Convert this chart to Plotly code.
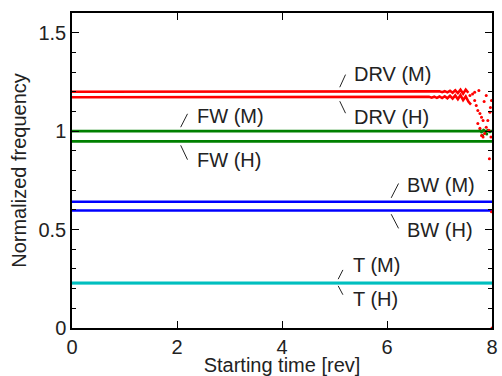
import plotly.graph_objects as go

# ---- data ----
x_flat = [0.0, 8.0]
fw_m = [1.000, 1.000]
fw_h = [0.948, 0.948]
bw_m = [0.641, 0.641]
bw_h = [0.597, 0.597]
t_m = [0.229, 0.229]
t_h = [0.227, 0.227]

drv_m_x = [0.0, 6.95, 7.00, 7.05, 7.10, 7.15, 7.20, 7.25, 7.30, 7.35, 7.40, 7.45, 7.50, 7.55]
drv_m_y = [1.200, 1.200, 1.202, 1.198, 1.203, 1.197, 1.205, 1.195, 1.207, 1.193, 1.210, 1.190, 1.211, 1.195]

drv_h_x = [0.0, 6.75, 6.80, 6.85, 6.90, 6.95, 7.00, 7.05, 7.10, 7.15, 7.20, 7.25, 7.30, 7.35, 7.40, 7.45, 7.50, 7.55, 7.60]
drv_h_y = [1.172, 1.172, 1.174, 1.170, 1.175, 1.169, 1.176, 1.168, 1.177, 1.167, 1.179, 1.165, 1.181, 1.162, 1.183, 1.158, 1.176, 1.150, 1.135]

drv_dots_x = [7.58, 7.63, 7.67, 7.70, 7.73, 7.77, 7.80, 7.83, 7.73, 7.77, 7.80, 7.83, 7.86, 7.89, 7.92, 7.96, 7.99, 7.89, 7.67, 7.94, 7.98, 7.95, 7.99, 7.97, 8.00, 7.75, 7.85]
drv_dots_y = [1.181, 1.189, 1.156, 1.130, 1.105, 1.090, 1.071, 1.054, 1.039, 1.014, 0.978, 0.970, 0.988, 1.020, 1.054, 1.096, 1.156, 1.181, 1.197, 1.004, 0.970, 0.860, 0.590, 1.120, 0.000, 1.206, 1.150]

fw_dots_x = [7.77, 7.80, 7.84, 7.88, 7.92, 7.96, 7.82, 7.90]
fw_dots_y = [1.004, 0.996, 1.006, 0.998, 1.004, 0.997, 0.978, 0.985]

x_ticks = [0, 2, 4, 6, 8]

# label texts, leader start/end, text anchor (data units)
labels = [
    ("DRV (M)", 5.10, 1.223, 5.21, 1.287, 5.33, 1.290),
    ("DRV (H)", 5.10, 1.152, 5.21, 1.091, 5.33, 1.071),
    ("FW (M)", 2.07, 1.020, 2.20, 1.088, 2.34, 1.079),
    ("FW (H)", 2.07, 0.928, 2.20, 0.855, 2.34, 0.852),
    ("BW (M)", 6.08, 0.661, 6.22, 0.734, 6.34, 0.724),
    ("BW (H)", 6.08, 0.578, 6.22, 0.506, 6.34, 0.497),
    ("T (M)", 5.07, 0.248, 5.16, 0.295, 5.32, 0.320),
    ("T (H)", 5.07, 0.214, 5.16, 0.169, 5.32, 0.147),
]

RED = "#ff0000"
GREEN = "#008000"
BLUE = "#0000ff"
CYAN = "#00bfbf"
FONT = "Liberation Sans, Arial, Helvetica, sans-serif"
FS = 20

fig = go.Figure()

def line(x, y, color):
    fig.add_trace(go.Scatter(x=x, y=y, mode="lines", line=dict(color=color, width=2.6),
                             showlegend=False, hoverinfo="skip", cliponaxis=True))

line(drv_m_x, drv_m_y, RED)
line(drv_h_x, drv_h_y, RED)
line(x_flat, fw_m, GREEN)
line(x_flat, fw_h, GREEN)
line(x_flat, bw_m, BLUE)
line(x_flat, bw_h, BLUE)
line(x_flat, t_m, CYAN)
line(x_flat, t_h, CYAN)

fig.add_trace(go.Scatter(x=fw_dots_x, y=fw_dots_y, mode="markers",
                         marker=dict(color=GREEN, size=3), showlegend=False, cliponaxis=False))
fig.add_trace(go.Scatter(x=drv_dots_x, y=drv_dots_y, mode="markers",
                         marker=dict(color=RED, size=3), showlegend=False, cliponaxis=False))

for text, x0, y0, x1, y1, tx, ty in labels:
    fig.add_shape(type="line", x0=x0, y0=y0, x1=x1, y1=y1, xref="x", yref="y",
                  line=dict(color="#222222", width=1))
    fig.add_annotation(x=tx, y=ty, text=text, showarrow=False, xanchor="left", yanchor="middle",
                       font=dict(family=FONT, size=FS, color="#222222"))

axis_common = dict(showline=True, linecolor="black", linewidth=1.5, mirror="ticks",
                   ticks="inside", tickcolor="black", tickwidth=1, showgrid=False, zeroline=False,
                   automargin=False,
                   tickfont=dict(family=FONT, size=FS, color="#222222"))

fig.update_layout(
    width=502, height=376, autosize=False,
    margin=dict(l=72, r=10, t=13, b=48, autoexpand=False),
    paper_bgcolor="white", plot_bgcolor="white",
    xaxis=dict(range=[0, 8], tickvals=x_ticks, ticklen=7,
               title=dict(text="Starting time [rev]", font=dict(family=FONT, size=FS, color="#222222"), standoff=3),
               **axis_common),
    yaxis=dict(range=[0, 1.6], tickvals=[0, 0.5, 1, 1.5], ticktext=["0", "0.5", "1", "1.5"], ticklen=7,
               minor=dict(dtick=0.1, ticks="inside", ticklen=4, tickcolor="black"),
               title=dict(text="Normalized frequency", font=dict(family=FONT, size=FS, color="#222222"), standoff=6),
               **axis_common),
)

fig.write_html("out.html", config={"displayModeBar": False},
               post_script="document.body.style.margin='0';document.body.style.padding='0';")
